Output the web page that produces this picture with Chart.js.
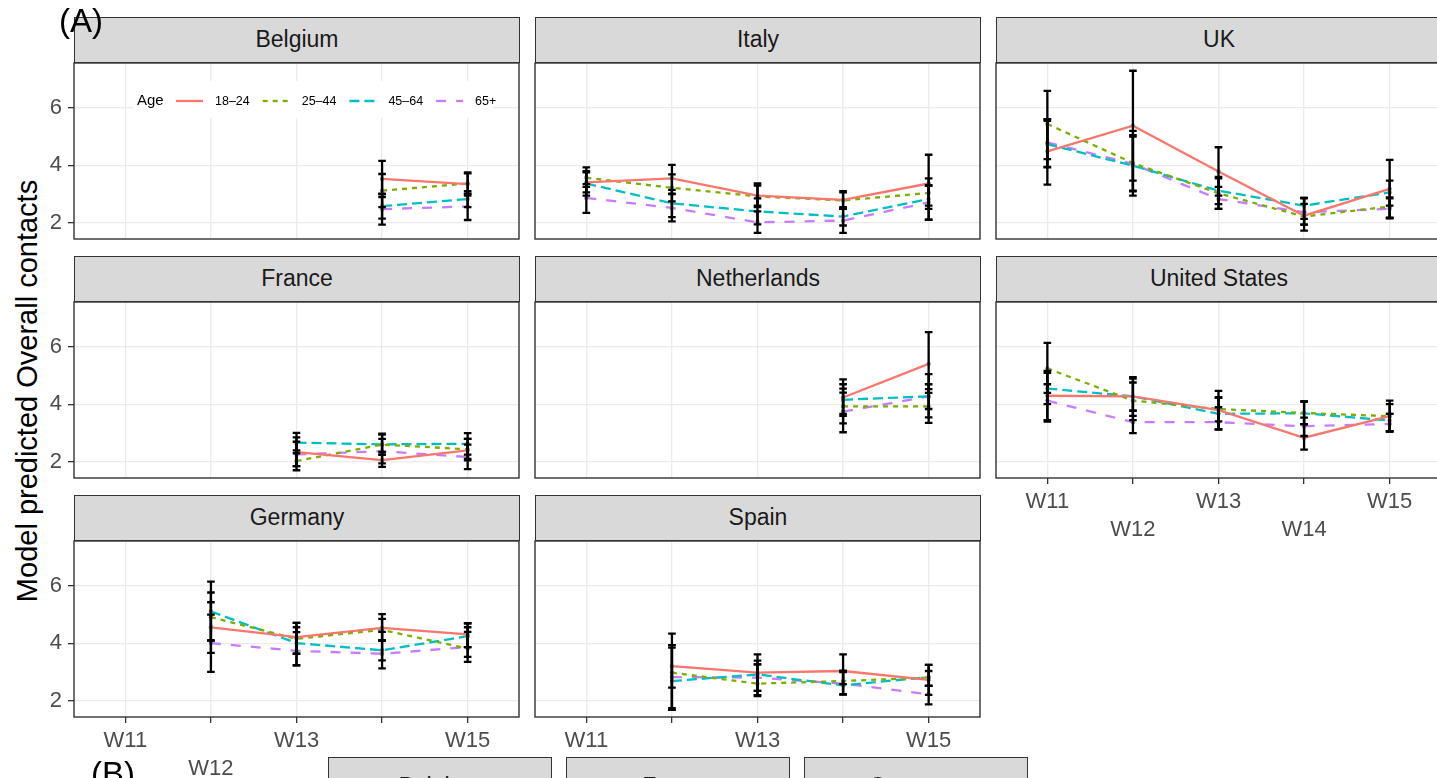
<!DOCTYPE html>
<html>
<head>
<meta charset="utf-8">
<script src="https://cdn.jsdelivr.net/npm/chart.js@4.4.1/dist/chart.umd.min.js"></script>
<style>
  body { margin:0; width:1437px; height:778px; overflow:hidden; background:#fff; position:relative;
         font-family:'Liberation Sans', Arial, sans-serif; }
  canvas { position:absolute; }
  .strip { position:absolute; box-sizing:border-box; height:46px; background:#d9d9d9; border:1.4px solid #333;
           color:#1a1a1a; font-size:23px; text-align:center; line-height:42px; overflow:hidden; }
  .tag { position:absolute; font-size:33px; line-height:33px; color:#000; z-index:5; }
  #ytitle { position:absolute; left:-223px; top:376px; width:500px; height:30px; line-height:30px; font-size:29px;
            text-align:center; transform:rotate(-90deg); color:#000; }
</style>
</head>
<body>
<div id="ytitle">Model predicted Overall contacts</div>
<div class="tag" style="left:59px;top:4px">(A)</div>
<script>
const FONT = "'Liberation Sans', Arial, sans-serif";
const N = null;

const weeks = [11, 12, 13, 14, 15];
const weekLabels = ['W11', 'W12', 'W13', 'W14', 'W15'];
const ageGroups = ['18–24', '25–44', '45–64', '65+'];
const yTicks = [2, 4, 6];

// rows = age groups (18-24, 25-44, 45-64, 65+), columns = W11..W15
const belgiumMean = [[N,N,N,3.53,3.35],[N,N,N,3.12,3.37],[N,N,N,2.58,2.83],[N,N,N,2.48,2.57]];
const belgiumLow  = [[N,N,N,2.90,2.95],[N,N,N,2.55,3.02],[N,N,N,2.15,2.55],[N,N,N,1.94,2.10]];
const belgiumHigh = [[N,N,N,4.16,3.76],[N,N,N,3.70,3.72],[N,N,N,3.00,3.10],[N,N,N,3.02,3.00]];

const italyMean = [[3.41,3.55,2.95,2.80,3.37],[3.57,3.22,2.92,2.78,3.04],[3.37,2.68,2.40,2.22,2.83],[2.87,2.52,2.02,2.08,2.71]];
const italyLow  = [[3.06,3.02,2.60,2.49,2.49],[3.25,2.75,2.55,2.49,2.60],[2.95,2.20,1.95,1.91,2.11],[2.35,2.05,1.65,1.65,2.11]];
const italyHigh = [[3.76,4.02,3.37,3.10,4.37],[3.93,3.69,3.30,3.06,3.55],[3.80,3.15,2.85,2.55,3.30],[3.35,3.00,2.40,2.50,3.30]];

const ukMean = [[4.49,5.38,3.79,2.25,3.18],[5.44,4.08,3.03,2.22,2.57],[4.74,3.99,3.12,2.60,3.06],[4.80,4.05,2.83,2.37,2.49]];
const ukLow  = [[3.33,3.47,2.95,1.73,2.17],[4.22,3.12,2.49,1.94,2.17],[3.93,2.95,2.65,2.14,2.60],[3.95,3.10,2.49,1.94,2.17]];
const ukHigh = [[5.61,7.29,4.63,2.87,4.19],[6.59,5.05,3.55,2.66,2.89],[5.55,5.00,3.60,2.87,3.47],[5.60,5.20,3.25,2.85,2.85]];

const franceMean = [[N,N,2.34,2.06,2.40],[N,N,2.03,2.60,2.44],[N,N,2.67,2.61,2.63],[N,N,2.26,2.37,2.17]];
const franceLow  = [[N,N,1.85,1.83,2.05],[N,N,1.71,2.25,2.10],[N,N,2.30,2.25,2.25],[N,N,1.85,1.95,1.75]];
const franceHigh = [[N,N,2.85,2.35,2.80],[N,N,2.40,2.98,2.80],[N,N,3.01,2.95,3.00],[N,N,2.70,2.80,2.60]];

const netherlandsMean = [[N,N,N,4.24,5.41],[N,N,N,3.93,3.93],[N,N,N,4.16,4.28],[N,N,N,3.75,4.28]];
const netherlandsLow  = [[N,N,N,3.67,4.40],[N,N,N,3.34,3.36],[N,N,N,3.60,3.55],[N,N,N,3.03,3.84]];
const netherlandsHigh = [[N,N,N,4.87,6.51],[N,N,N,4.55,4.53],[N,N,N,4.70,5.05],[N,N,N,4.41,4.70]];

const usMean = [[4.30,4.28,3.80,2.84,3.59],[5.25,4.13,3.84,3.70,3.59],[4.55,4.28,3.67,3.69,3.44],[4.13,3.38,3.38,3.24,3.32]];
const usLow  = [[3.40,3.60,3.13,2.43,3.06],[4.40,3.45,3.41,3.31,3.06],[4.01,3.78,3.13,3.31,3.06],[3.45,3.00,3.13,2.90,3.06]];
const usHigh = [[5.16,4.95,4.47,3.31,4.13],[6.14,4.76,4.24,4.10,4.01],[5.10,4.90,4.24,4.10,3.67],[4.70,3.78,3.90,3.54,3.67]];

const germanyMean = [[N,4.56,4.22,4.54,4.31],[N,4.91,4.16,4.47,3.82],[N,5.11,4.01,3.76,4.25],[N,4.01,3.74,3.64,3.87]];
const germanyLow  = [[N,3.67,3.64,4.10,3.87],[N,4.10,3.64,4.10,3.36],[N,4.10,3.24,3.41,3.87],[N,3.01,3.24,3.13,3.53]];
const germanyHigh = [[N,5.43,4.71,5.02,4.70],[N,5.77,4.56,4.85,4.56],[N,6.15,4.71,4.40,4.70],[N,5.00,4.39,4.10,4.40]];

const spainMean = [[N,3.21,2.98,3.04,2.73],[N,2.98,2.60,2.69,2.81],[N,2.69,2.92,2.54,2.83],[N,2.83,2.81,2.60,2.23]];
const spainLow  = [[N,2.46,2.35,2.58,2.21],[N,1.69,2.17,2.23,2.52],[N,1.69,2.35,2.23,2.52],[N,1.75,2.20,2.23,1.88]];
const spainHigh = [[N,4.34,3.62,3.62,3.25],[N,3.94,3.27,3.04,3.04],[N,3.85,3.40,3.04,3.25],[N,3.94,3.27,3.00,2.52]];

// looks of the age groups (ggplot hue + linetype)
const ageColors = ['#F8766D', '#7CAE00', '#00BFC4', '#C77CFF'];
const ageDash = [[], [5, 5], [10, 5], [10, 10]];

// facet layout
const colX = [74, 535, 996];
const rowY = [17, 256, 495];
const PW = 446, SH = 45, PH = 177, AXW = 60, AXH = 70, PAD = 3;

const panels = [
  {name: 'Belgium', col: 0, row: 0, mean: belgiumMean, lo: belgiumLow, hi: belgiumHigh, legend: true},
  {name: 'Italy', col: 1, row: 0, mean: italyMean, lo: italyLow, hi: italyHigh},
  {name: 'UK', col: 2, row: 0, mean: ukMean, lo: ukLow, hi: ukHigh},
  {name: 'France', col: 0, row: 1, mean: franceMean, lo: franceLow, hi: franceHigh},
  {name: 'Netherlands', col: 1, row: 1, mean: netherlandsMean, lo: netherlandsLow, hi: netherlandsHigh},
  {name: 'United States', col: 2, row: 1, mean: usMean, lo: usLow, hi: usHigh, xAxis: true},
  {name: 'Germany', col: 0, row: 2, mean: germanyMean, lo: germanyLow, hi: germanyHigh, xAxis: true},
  {name: 'Spain', col: 1, row: 2, mean: spainMean, lo: spainLow, hi: spainHigh, xAxis: true}
];

// error bars drawn on top of the lines
const errorBars = {
  id: 'errorBars',
  afterDatasetsDraw(chart) {
    const ctx = chart.ctx, xs = chart.scales.x, ys = chart.scales.y;
    ctx.save();
    ctx.strokeStyle = '#000';
    ctx.lineWidth = 2.3;
    chart.data.datasets.forEach(ds => {
      ds.errLo.forEach((lo, j) => {
        const hi = ds.errHi[j];
        if (lo == null || hi == null) return;
        const x = xs.getPixelForValue(weeks[j]);
        const y1 = ys.getPixelForValue(lo), y2 = ys.getPixelForValue(hi);
        ctx.beginPath();
        ctx.moveTo(x, y1); ctx.lineTo(x, y2);
        ctx.moveTo(x - 3.8, y1); ctx.lineTo(x + 3.8, y1);
        ctx.moveTo(x - 3.8, y2); ctx.lineTo(x + 3.8, y2);
        ctx.stroke();
      });
    });
    ctx.restore();
  }
};

// panel frame
const frame = {
  id: 'frame',
  afterDraw(chart) {
    const a = chart.chartArea, ctx = chart.ctx;
    ctx.save();
    ctx.strokeStyle = '#333';
    ctx.lineWidth = 1.4;
    ctx.strokeRect(a.left, a.top, a.right - a.left, a.bottom - a.top);
    ctx.restore();
  }
};

// "Age" legend inside the Belgium panel, built from the datasets
const ageLegend = {
  id: 'ageLegend',
  afterDatasetsDraw(chart) {
    if (!chart.options.plugins.ageLegend.show) return;
    const a = chart.chartArea, ctx = chart.ctx;
    const cy = a.top + 38;
    ctx.save();
    ctx.fillStyle = '#fff';
    ctx.fillRect(a.left + 59, a.top + 18, 360, 37);
    ctx.fillStyle = '#000';
    ctx.textBaseline = 'middle';
    ctx.font = '15px ' + FONT;
    ctx.fillText('Age', a.left + 63, cy);
    chart.data.datasets.forEach((ds, i) => {
      const x0 = a.left + 102 + i * 86.7;
      ctx.strokeStyle = ds.borderColor;
      ctx.lineWidth = ds.borderWidth;
      ctx.setLineDash(ds.borderDash);
      ctx.beginPath(); ctx.moveTo(x0, cy); ctx.lineTo(x0 + 27, cy); ctx.stroke();
      ctx.setLineDash([]);
      ctx.font = '12.5px ' + FONT;
      ctx.fillText(ds.label, x0 + 39, cy + 0.5);
    });
    ctx.restore();
  }
};

const noPad = s => { s.paddingTop = 0; s.paddingBottom = 0; s.paddingLeft = 0; s.paddingRight = 0; };

panels.forEach(p => {
  const left = colX[p.col], top = rowY[p.row];
  const showY = p.col === 0;

  const cv = document.createElement('canvas');
  cv.width = AXW + PW + PAD;
  cv.height = PAD + PH + AXH;
  cv.style.left = (left - AXW) + 'px';
  cv.style.top = (top + SH - PAD) + 'px';
  document.body.appendChild(cv);

  const strip = document.createElement('div');
  strip.className = 'strip';
  strip.style.left = left + 'px';
  strip.style.top = top + 'px';
  strip.style.width = PW + 'px';
  strip.textContent = p.name;
  document.body.appendChild(strip);

  const datasets = ageGroups.map((g, i) => ({
    label: g,
    data: weeks.map((w, j) => ({x: w, y: p.mean[i][j]})),
    errLo: p.lo[i],
    errHi: p.hi[i],
    borderColor: ageColors[i],
    borderWidth: 2.3,
    borderDash: ageDash[i],
    pointRadius: 2.2,
    pointBackgroundColor: '#8a8a8a',
    pointBorderWidth: 0,
    fill: false,
    tension: 0
  }));

  new Chart(cv, {
    type: 'line',
    data: {datasets},
    options: {
      responsive: false,
      animation: false,
      events: [],
      layout: {padding: {top: PAD, right: PAD, left: 0, bottom: 0}},
      plugins: {legend: {display: false}, tooltip: {enabled: false}, ageLegend: {show: !!p.legend}},
      scales: {
        x: {
          type: 'linear', min: 10.4, max: 15.6,
          afterBuildTicks: s => { s.ticks = weeks.map(v => ({value: v})); },
          afterFit: s => { s.height = AXH; noPad(s); },
          border: {display: false},
          grid: {color: '#ebebeb', lineWidth: 1.3, drawTicks: !!p.xAxis, tickLength: 6, tickColor: '#333', tickWidth: 1.3},
          ticks: {
            display: !!p.xAxis, autoSkip: false, maxRotation: 0, padding: 4, color: '#4d4d4d',
            font: {size: 22, family: FONT, lineHeight: 1.28},
            callback: v => { const l = weekLabels[weeks.indexOf(v)]; return v % 2 ? [l] : ['', l]; }
          }
        },
        y: {
          min: 1.44, max: 7.56,
          afterBuildTicks: s => { s.ticks = yTicks.map(v => ({value: v})); },
          afterFit: s => { s.width = AXW; noPad(s); },
          border: {display: false},
          grid: {color: '#ebebeb', lineWidth: 1.3, drawTicks: showY, tickLength: 6, tickColor: '#333', tickWidth: 1.3},
          ticks: {display: showY, padding: 6, color: '#4d4d4d', font: {size: 22, family: FONT}}
        }
      }
    },
    plugins: [ageLegend, errorBars, frame]
  });
});

// top of panel (B), cut off by the page edge
['Belgium', 'France', 'Germany'].forEach((name, i) => {
  const d = document.createElement('div');
  d.className = 'strip';
  d.style.left = (328 + i * 238) + 'px';
  d.style.top = '757px';
  d.style.width = '224px';
  d.style.lineHeight = '56px';
  d.style.zIndex = 4;
  d.textContent = name;
  document.body.appendChild(d);
});
const tagB = document.createElement('div');
tagB.className = 'tag';
tagB.style.left = '91px';
tagB.style.top = '757px';
tagB.textContent = '(B)';
document.body.appendChild(tagB);
</script>
</body>
</html>
